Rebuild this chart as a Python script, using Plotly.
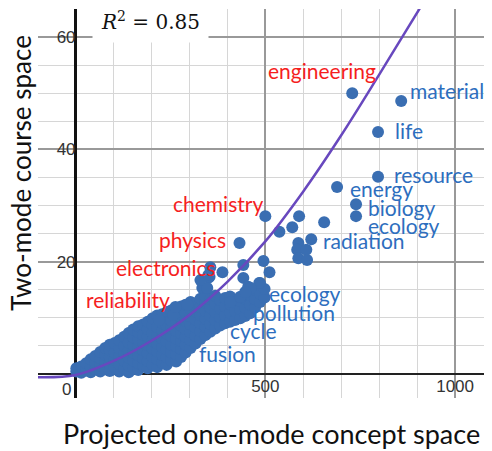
import plotly.graph_objects as go

# ---- data ----
point_x = [
    2, 2, 15, 15, 28, 28, 40, 40, 40, 52, 52, 52,
    65, 65, 65, 65, 78, 78, 78, 78, 90, 90, 90, 90, 90,
    103, 103, 103, 103, 115, 115, 115, 115, 115,
    128, 128, 128, 128, 128, 140, 140, 140, 140, 140, 140,
    152, 152, 152, 152, 152, 152, 165, 165, 165, 165, 165, 165, 165,
    178, 178, 178, 178, 178, 178, 190, 190, 190, 190, 190, 190, 190,
    203, 203, 203, 203, 203, 203, 203, 215, 215, 215, 215, 215, 215, 215,
    228, 228, 228, 228, 228, 228, 228, 240, 240, 240, 240, 240, 240, 240, 240,
    252, 252, 252, 252, 252, 252, 252, 265, 265, 265, 265, 265, 265, 265, 265,
    278, 278, 278, 278, 278, 278, 278, 290, 290, 290, 290, 290, 290, 290,
    303, 303, 303, 303, 303, 303, 303, 316, 316, 316, 316, 316, 316,
    329, 329, 329, 329, 329, 329, 342, 342, 342, 342, 342, 342,
    355, 355, 355, 355, 355, 368, 368, 368, 368, 368,
    381, 381, 381, 381, 394, 394, 394, 394, 407, 407, 407, 407,
    420, 420, 420, 434, 434, 434, 434, 447, 447, 447, 460, 460, 460,
    473, 473, 473, 486, 486, 486, 498, 498,
    387, 353, 355, 350, 334, 347, 329, 408, 434, 442, 442, 455, 484, 495, 511,
    295, 258, 461, 447, 350, 220, 263,
    432, 500, 537, 571, 589, 655, 621, 587, 584, 608, 587, 610,
    689, 739, 739, 797, 797, 729, 858,
]
point_y = [
    0.4, 1.0, 0.2, 1.3, 0.6, 1.9, 0.3, 1.2, 2.6, 0.8, 2.0, 3.2,
    0.4, 1.5, 2.8, 3.9, 0.9, 2.2, 3.4, 4.6, 0.5, 1.8, 3.0, 4.3, 5.2,
    1.2, 2.5, 3.8, 5.5, 0.4, 1.7, 3.1, 4.6, 6.0,
    0.9, 2.3, 3.6, 5.0, 6.6, 0.3, 1.5, 2.9, 4.2, 5.6, 7.3,
    1.1, 2.4, 3.8, 5.2, 6.5, 7.9, 0.7, 1.9, 3.3, 4.7, 6.1, 7.4, 8.5,
    1.4, 2.8, 4.2, 5.6, 7.0, 8.8, 1.0, 2.3, 3.7, 5.1, 6.6, 8.0, 9.3,
    1.6, 3.0, 4.5, 5.9, 7.3, 8.7, 9.9, 1.2, 2.6, 4.0, 5.4, 6.9, 8.3, 10.4,
    2.0, 3.4, 4.8, 6.3, 7.7, 9.1, 10.6, 1.6, 3.0, 4.4, 5.8, 7.2, 8.6, 10.0, 11.0,
    2.4, 3.8, 5.2, 6.7, 8.1, 9.5, 11.3, 2.2, 3.5, 4.9, 6.3, 7.7, 9.2, 10.6, 11.6,
    3.0, 4.4, 5.8, 7.2, 8.6, 10.1, 12.0, 3.8, 5.2, 6.6, 8.0, 9.4, 10.9, 12.3,
    4.6, 6.0, 7.4, 8.8, 10.2, 11.6, 12.8, 5.4, 6.8, 8.3, 9.7, 11.1, 12.6,
    6.2, 7.6, 9.0, 10.5, 11.9, 13.4, 6.9, 8.4, 9.8, 11.2, 12.7, 13.8,
    7.5, 8.9, 10.4, 11.8, 13.3, 8.1, 9.6, 11.0, 12.5, 13.9,
    8.6, 10.1, 11.6, 13.1, 9.0, 10.5, 12.0, 13.5, 9.3, 10.9, 12.4, 13.8,
    9.6, 11.2, 12.7, 9.9, 11.5, 13.0, 13.7, 10.3, 11.8, 13.4, 10.8, 12.3, 14.0,
    11.8, 13.3, 15.0, 12.8, 14.3, 16.2, 13.6, 15.1,
    18.1, 17.3, 19.0, 17.1, 15.3, 15.3, 16.7, 12.8, 13.7, 19.4, 17.1, 15.5, 16.2, 20.1, 18.1,
    12.3, 10.5, 15.3, 14.6, 17.6, 9.6, 11.9,
    23.3, 28.1, 25.3, 26.1, 28.1, 27.0, 24.0, 23.3, 22.1, 22.1, 20.6, 20.3,
    33.3, 30.2, 28.1, 35.1, 43.1, 50.0, 48.6,
]

fit_x = [-100, 0, 100, 200, 300, 400, 500, 600, 700, 800, 915]
fit_y = [-0.6, -0.2, 2.3, 5.9, 10.5, 16.4, 23.6, 32.5, 42.5, 53.3, 66.0]

red_labels = ["engineering", "chemistry", "physics", "electronics", "reliability"]
red_x = [796, 499, 401, 375, 254]
red_y = [54.1, 30.3, 23.9, 19.0, 13.2]

blue_labels = ["material", "life", "resource", "energy", "biology", "ecology",
               "radiation", "ecology", "pollution", "cycle", "fusion"]
blue_x = [875, 836, 833, 717, 764, 764, 646, 504, 462, 401, 320]
blue_y = [50.4, 43.4, 35.6, 33.1, 29.7, 26.5, 23.7, 14.4, 11.0, 7.8, 3.7]

x_ticks = [500, 1000]
y_ticks = [20, 40, 60]
x_title = "Projected one-mode concept space"
y_title = "Two-mode course space"
r2_text = "<i>R</i><sup>2</sup> = 0.85"

# ---- figure ----
LABEL_FONT = "Lato"
fig = go.Figure()
fig.add_trace(go.Scatter(
    x=point_x, y=point_y, mode="markers",
    marker=dict(size=12, color="rgb(58,110,178)", line=dict(width=0)),
    hoverinfo="skip", showlegend=False,
))
fig.add_trace(go.Scatter(
    x=fit_x, y=fit_y, mode="lines", line=dict(color="rgb(104,72,190)", width=2.5, shape="spline"),
    hoverinfo="skip", showlegend=False,
))

annotations = []
for t, x, y in zip(red_labels, red_x, red_y):
    annotations.append(dict(x=x, y=y, text=t, showarrow=False, xanchor="right", yanchor="middle",
                            font=dict(family=LABEL_FONT, size=21, color="rgb(245,30,30)")))
for t, x, y in zip(blue_labels, blue_x, blue_y):
    annotations.append(dict(x=x, y=y, text=t, showarrow=False, xanchor="left", yanchor="middle",
                            font=dict(family=LABEL_FONT, size=21, color="rgb(45,110,190)")))
annotations.append(dict(x=0, y=0, text="0", showarrow=False, xanchor="right", yanchor="top",
                        xshift=-3, yshift=-4,
                        font=dict(family="Liberation Sans", size=17, color="#333")))
annotations.append(dict(xref="paper", yref="paper", x=0.248, y=0.969, text=r2_text,
                        xanchor="center", yanchor="middle",
                        showarrow=False, bgcolor="white", borderpad=8,
                        font=dict(family="DejaVu Serif", size=20, color="#111")))
annotations.append(dict(xref="paper", yref="paper", x=0.516, y=-0.090, text=x_title,
                        xanchor="center", yanchor="middle", showarrow=False,
                        font=dict(family=LABEL_FONT, size=27, color="#111")))
annotations.append(dict(xref="paper", yref="paper", x=-0.038, y=0.578, text=y_title,
                        xanchor="center", yanchor="middle", showarrow=False, textangle=-90,
                        font=dict(family=LABEL_FONT, size=26, color="#111")))

# the page body adds an 8px offset, so the figure is 8px smaller than the window
fig.update_layout(
    width=484, height=443,
    margin=dict(l=30, r=2, t=1, b=53, autoexpand=False),
    paper_bgcolor="white", plot_bgcolor="white",
    annotations=annotations,
    xaxis=dict(
        range=[-99, 1092], tickvals=x_ticks, anchor="free", position=0.062,
        automargin=False,
        showgrid=True, gridcolor="#999", gridwidth=1.5,
        minor=dict(tick0=0, dtick=100, showgrid=True, gridcolor="#d6d6d6", gridwidth=1),
        zeroline=True, zerolinecolor="#111", zerolinewidth=2.5,
        showline=False, ticks="",
        tickfont=dict(family="Liberation Sans", size=17, color="#333"),
    ),
    yaxis=dict(
        range=[-4.3, 65], tickvals=y_ticks, anchor="free", position=0.0831,
        automargin=False,
        showgrid=True, gridcolor="#999", gridwidth=1.5,
        minor=dict(tick0=0, dtick=5, showgrid=True, gridcolor="#d6d6d6", gridwidth=1),
        zeroline=True, zerolinecolor="#222", zerolinewidth=2,
        showline=False, ticks="",
        tickfont=dict(family="Liberation Sans", size=17, color="#333"),
    ),
)

fig.write_html("out.html")
